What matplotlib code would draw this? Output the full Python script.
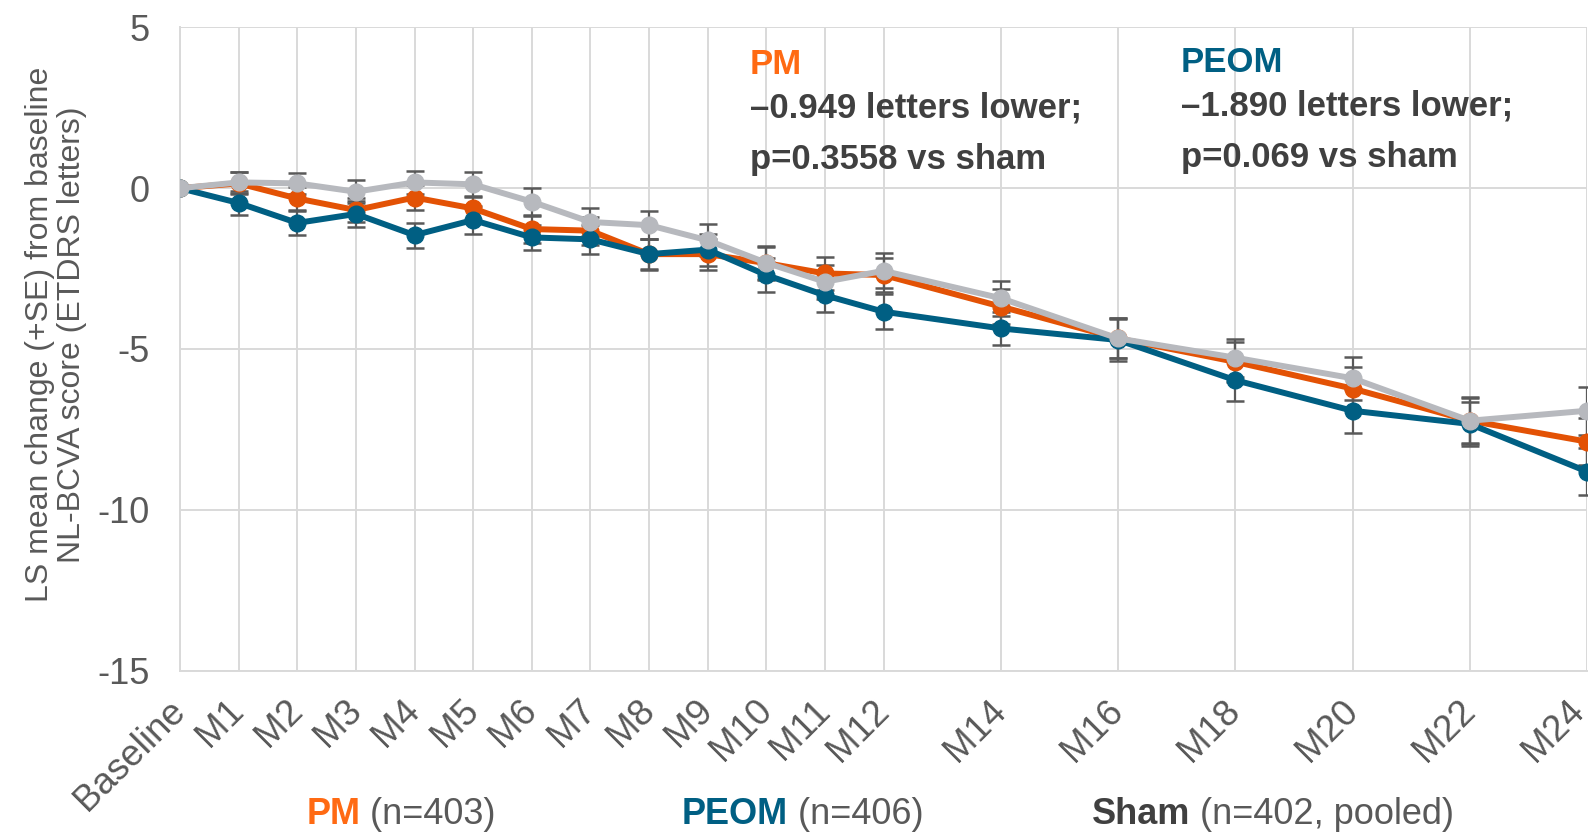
import matplotlib
matplotlib.use("Agg")
import matplotlib.pyplot as plt
import matplotlib.transforms as mtransforms
import numpy as np

plt.rcParams['font.family'] = ['Liberation Sans', 'DejaVu Sans']

months = [0, 1, 2, 3, 4, 5, 6, 7, 8, 9, 10, 11, 12, 14, 16, 18, 20, 22, 24]
labels = ['Baseline', 'M1', 'M2', 'M3', 'M4', 'M5', 'M6', 'M7', 'M8', 'M9', 'M10',
          'M11', 'M12', 'M14', 'M16', 'M18', 'M20', 'M22', 'M24']

pm = [0, 0.15, -0.32, -0.68, -0.29, -0.63, -1.27, -1.32, -2.05, -2.05, -2.33,
      -2.65, -2.70, -3.68, -4.67, -5.40, -6.23, -7.23, -7.88]
peom = [0, -0.46, -1.08, -0.80, -1.46, -0.99, -1.53, -1.59, -2.05, -1.91, -2.70,
        -3.33, -3.84, -4.36, -4.72, -5.97, -6.92, -7.33, -8.81]
sham = [0, 0.18, 0.15, -0.11, 0.18, 0.12, -0.42, -1.05, -1.15, -1.62, -2.32,
        -2.91, -2.57, -3.42, -4.67, -5.27, -5.91, -7.23, -6.92]

pm_se = [0, 0.34, 0.36, 0.38, 0.38, 0.40, 0.42, 0.44, 0.46, 0.48, 0.50,
         0.50, 0.52, 0.55, 0.62, 0.62, 0.66, 0.70, 0.72]
peom_se = [0, 0.36, 0.36, 0.41, 0.39, 0.44, 0.40, 0.45, 0.48, 0.50, 0.52,
           0.52, 0.55, 0.52, 0.66, 0.64, 0.68, 0.68, 0.72]
sham_se = [0, 0.33, 0.33, 0.35, 0.35, 0.38, 0.42, 0.44, 0.44, 0.50, 0.52,
           0.52, 0.54, 0.54, 0.62, 0.59, 0.67, 0.73, 0.75]

C_PM = '#E35205'
C_PEOM = '#005F83'
C_SHAM = '#B7B9BE'
C_TXT = '#595959'
C_DARK = '#404040'

W, H = 1593, 834
fig = plt.figure(figsize=(W / 100, H / 100), dpi=100)
ax = fig.add_axes([180 / W, 1 - 670.6 / H, (1587 - 180) / W, (670.6 - 27.4) / H])

series = [(pm, pm_se, C_PM, 2), (peom, peom_se, C_PEOM, 3), (sham, sham_se, C_SHAM, 4)]
for vals, se, col, z in series:
    ax.errorbar(months[1:], vals[1:], yerr=se[1:], fmt='none', ecolor=C_TXT,
                elinewidth=1.6, capsize=6.5, capthick=1.8, zorder=1.5)
    ax.plot(months, vals, color=col, lw=4.3, marker='o', ms=12, zorder=z)

ax.set_xlim(0, 24)
ax.set_ylim(-15, 5)
ax.set_yticks([5, 0, -5, -10, -15])
ax.set_yticklabels(['5', '0', '-5', '-10', '-15'])
ax.set_xticks(months)
ax.set_xticklabels(labels, rotation=45, ha='right', va='center', rotation_mode='anchor')
ax.tick_params(axis='both', length=0, colors=C_TXT)
ax.tick_params(axis='x', labelsize=26.5, pad=25)
ax.tick_params(axis='y', labelsize=26, pad=22)
ax.grid(True, color='#D9D9D9', lw=1.4, zorder=0)
for s in ax.spines.values():
    s.set_color('#D9D9D9')
    s.set_linewidth(1.4)
ax.spines['top'].set_visible(False)
ax.spines['right'].set_visible(False)
ax.set_axisbelow(True)

# last label sits right at the figure edge: nudge it left a little
last = ax.get_xticklabels()[-1]
last.set_transform(last.get_transform() + mtransforms.ScaledTranslation(-6 / 72, 0, fig.dpi_scale_trans))

ax.set_ylabel('LS mean change (+SE) from baseline\nNL-BCVA score (ETDRS letters)',
              fontsize=23, color=C_TXT, linespacing=1.1)
ax.yaxis.set_label_coords(-0.066, 0.522)

def fx(x):
    return x / W

def fy(y):
    return 1 - y / H

fs = 25
fig.text(fx(750), fy(65), 'PM', color='#FF6A13', fontsize=fs, weight='bold', va='center')
fig.text(fx(750), fy(108), '\u20130.949 letters lower;', color=C_DARK, fontsize=fs, weight='bold', va='center')
fig.text(fx(750), fy(159), 'p=0.3558 vs sham', color=C_DARK, fontsize=fs, weight='bold', va='center')
fig.text(fx(1181), fy(63), 'PEOM', color=C_PEOM, fontsize=fs, weight='bold', va='center')
fig.text(fx(1181), fy(106), '\u20131.890 letters lower;', color=C_DARK, fontsize=fs, weight='bold', va='center')
fig.text(fx(1181), fy(157), 'p=0.069 vs sham', color=C_DARK, fontsize=fs, weight='bold', va='center')

# bottom legend
lf = 26
leg = [(401, 'PM', '#FF6A13', ' (n=403)'),
       (803, 'PEOM', C_PEOM, ' (n=406)'),
       (1273, 'Sham', C_DARK, ' (n=402, pooled)')]
fig.canvas.draw()
r = fig.canvas.get_renderer()
for cx, bold, col, rest in leg:
    t1 = fig.text(0, fy(814), bold, color=col, fontsize=lf, weight='bold', va='center')
    t2 = fig.text(0, fy(814), rest, color=C_TXT, fontsize=lf, va='center')
    w1 = t1.get_window_extent(r).width
    w2 = t2.get_window_extent(r).width
    x0 = cx - (w1 + w2) / 2
    t1.set_x(fx(x0))
    t2.set_x(fx(x0 + w1))

fig.savefig('out.png', dpi=100)
